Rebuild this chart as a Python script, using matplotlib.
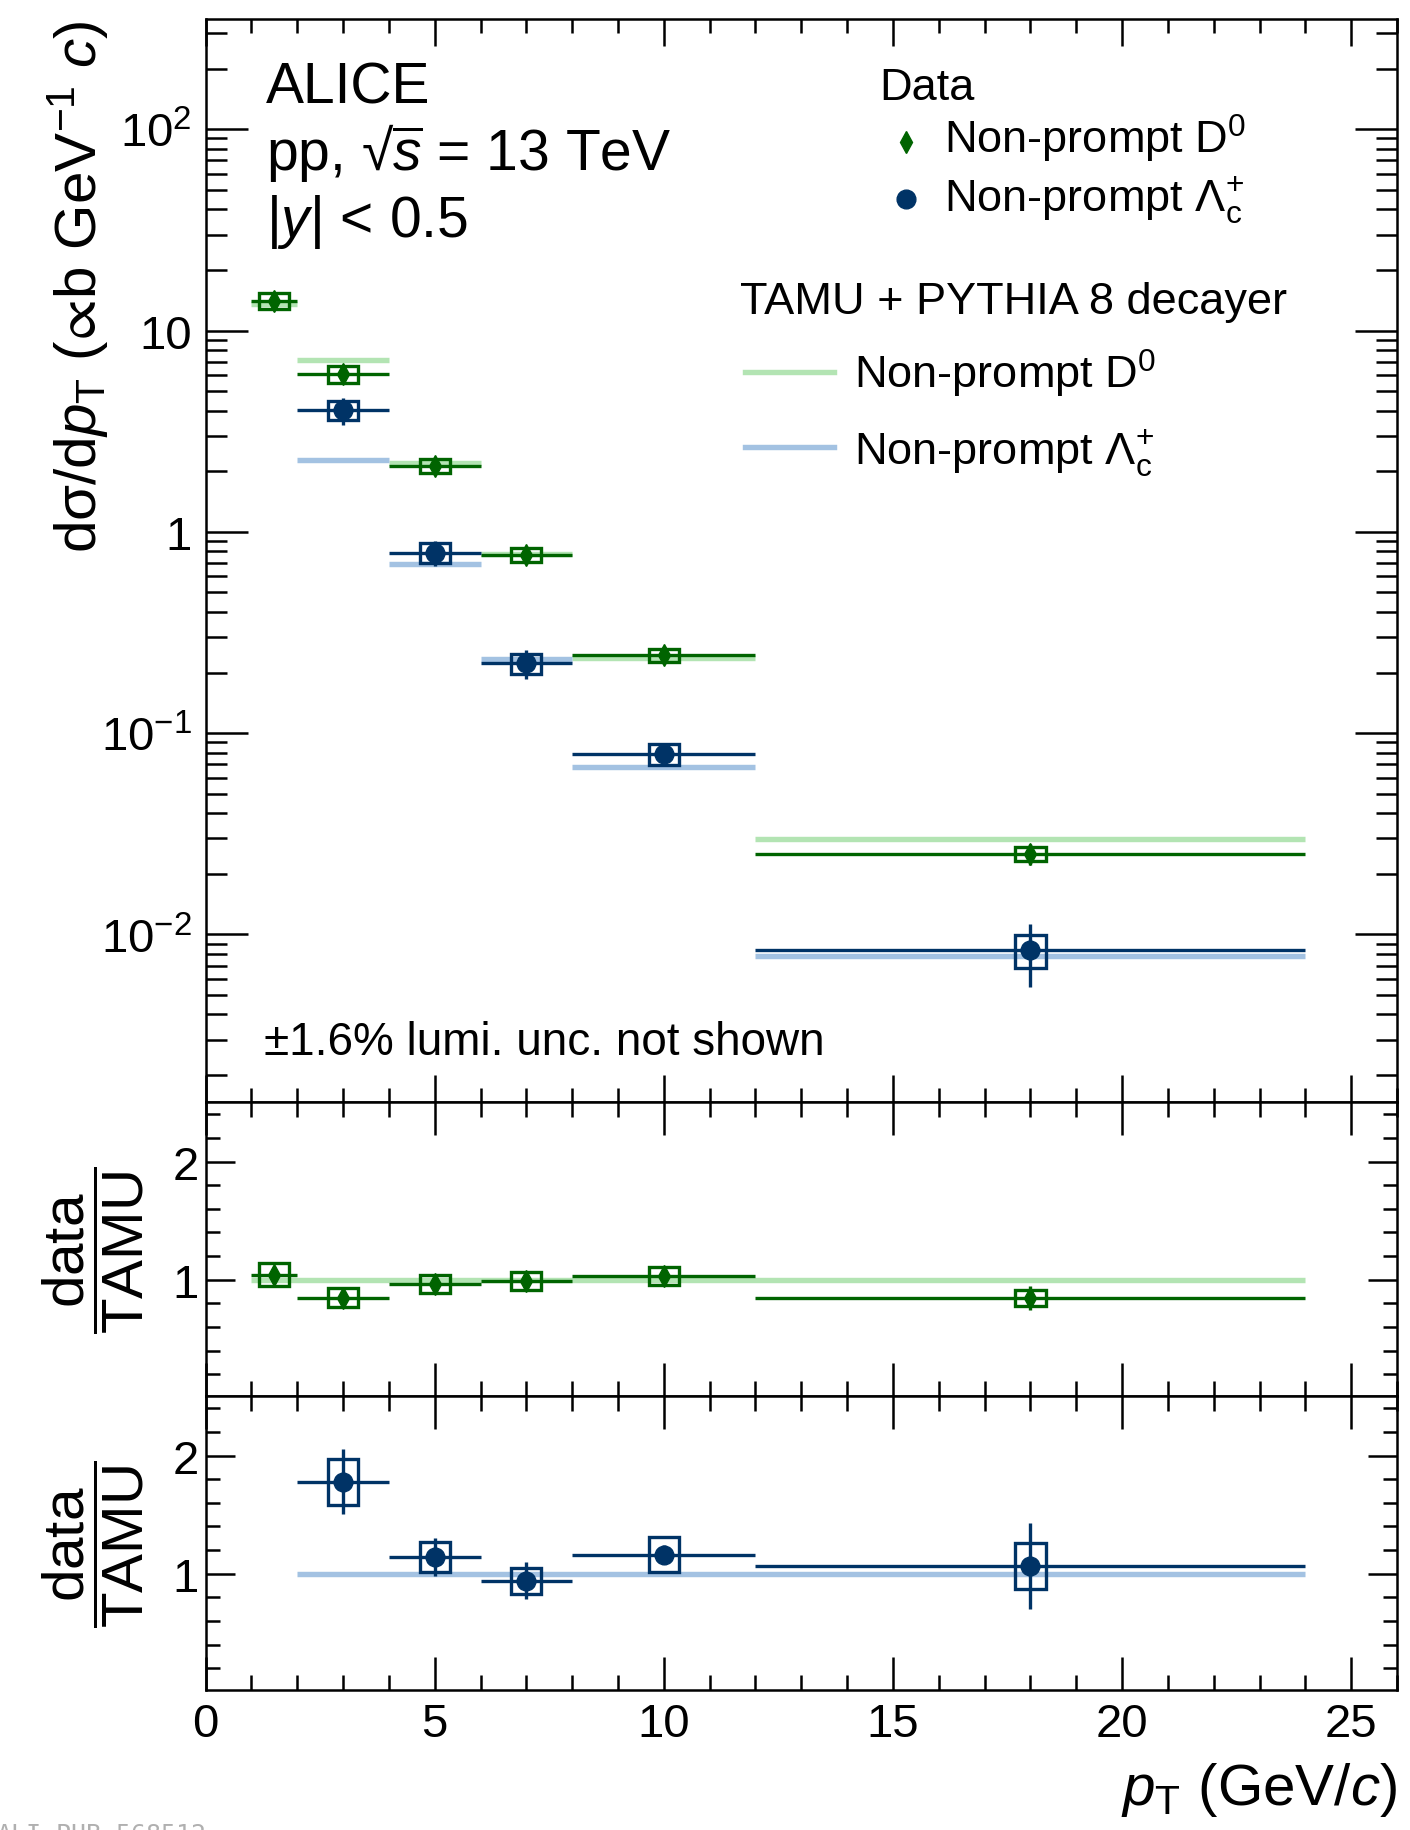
# Non-prompt D0 and Lambda_c+ cross sections vs pT in pp at 13 TeV (ALICE),
# compared with TAMU + PYTHIA 8 decayer. Top panel: spectra on a log scale,
# lower panels: data / TAMU for each species.

import matplotlib
matplotlib.use("Agg")
import matplotlib.pyplot as plt
from matplotlib.lines import Line2D
from matplotlib.patches import Rectangle
from matplotlib.ticker import FixedLocator, LogLocator, MultipleLocator, NullFormatter, FuncFormatter
import numpy as np

# --- Data --------------------------------------------------------------------
D0_PT_LO = [1, 2, 4, 6, 8, 12]
D0_PT_HI = [2, 4, 6, 8, 12, 24]
D0_PT = [1.5, 3, 5, 7, 10, 18]
D0_XSEC = [14.1, 6.10, 2.13, 0.769, 0.243, 0.0251]
D0_STAT = [0.04, 0.04, 0.05, 0.05, 0.05, 0.12]          # relative
D0_SYST = [0.092, 0.097, 0.079, 0.077, 0.076, 0.080]    # relative
D0_TAMU = [13.6, 7.11, 2.21, 0.779, 0.236, 0.0299]
D0_RATIO = [1.043, 0.848, 0.96, 0.99, 1.033, 0.844]

LC_PT_LO = [2, 4, 6, 8, 12]
LC_PT_HI = [4, 6, 8, 12, 24]
LC_PT = [3, 5, 7, 10, 18]
LC_XSEC = [4.02, 0.786, 0.222, 0.0789, 0.00838]
LC_STAT = [0.155, 0.14, 0.166, 0.07, 0.343]
LC_SYST = [0.109, 0.114, 0.117, 0.125, 0.184]
LC_TAMU = [2.27, 0.689, 0.234, 0.0678, 0.00785]
LC_RATIO = [1.777, 1.142, 0.94, 1.162, 1.066]

Y_MAJOR = [1e-2, 1e-1, 1, 10, 100]
RATIO_MAJOR = [1, 2]

# --- Style -------------------------------------------------------------------
W, H = 1410, 1831          # px, at dpi 100
D0_COLOR = "#006400"
LC_COLOR = "#003366"
D0_MODEL = "#b3e4b3"
LC_MODEL = "#a3c2e2"
DATA_LW = 2.4
MODEL_LW = 3.9
BOX_HALF = 0.33            # GeV/c — half width of the syst. box
TICK_SIZE = 34

plt.rcParams["font.family"] = ["Liberation Sans", "DejaVu Sans"]
plt.rcParams["mathtext.fontset"] = "custom"
plt.rcParams["mathtext.rm"] = "Liberation Sans"
plt.rcParams["mathtext.it"] = "Liberation Sans:italic"
plt.rcParams["mathtext.bf"] = "Liberation Sans:bold"
plt.rcParams["mathtext.sf"] = "Liberation Sans"
plt.rcParams["mathtext.fallback"] = "stixsans"


def fx(px):
    return px / W


def fy(py):
    return 1 - py / H


def draw_data(ax, lo, hi, x, y, stat, syst, color, marker, ms):
    """Bin-width line, stat. bar, syst. box and marker, ROOT style."""
    ax.hlines(y, lo, hi, color=color, lw=DATA_LW, zorder=4)
    ylo = [v * (1 - s) for v, s in zip(y, stat)]
    yhi = [v * (1 + s) for v, s in zip(y, stat)]
    ax.vlines(x, ylo, yhi, color=color, lw=DATA_LW, zorder=4)
    for xi, v, s in zip(x, y, syst):
        ax.add_patch(Rectangle((xi - BOX_HALF, v * (1 - s)), 2 * BOX_HALF, 2 * v * s,
                               fill=False, ec=color, lw=DATA_LW, zorder=5))
    ax.plot(x, y, ls="none", marker=marker, ms=ms, color=color, zorder=6)


def style_axes(ax, xmaj, xmin, ymaj, ymin):
    ax.set_xlim(0, 26)
    ax.xaxis.set_major_locator(MultipleLocator(5))
    ax.xaxis.set_minor_locator(MultipleLocator(1))
    ax.tick_params(which="both", direction="in", top=True, right=True, width=1.8,
                   labelsize=TICK_SIZE)
    ax.tick_params(axis="x", which="major", length=xmaj, pad=9)
    ax.tick_params(axis="x", which="minor", length=xmin)
    ax.tick_params(axis="y", which="major", length=ymaj)
    ax.tick_params(axis="y", which="minor", length=ymin)
    for spine in ax.spines.values():
        spine.set_linewidth(1.8)


def log_label(v, pos):
    exp = int(round(np.log10(v)))
    if exp == 0:
        return "1"
    if exp == 1:
        return "10"
    return rf"$10^{{{exp}}}$"


def main():
    fig = plt.figure(figsize=(W / 100, H / 100), dpi=100)
    left, width = fx(205.6), fx(1397) - fx(205.6)
    ax = fig.add_axes([left, fy(1103), width, (1103 - 20) / H])
    ax_d0 = fig.add_axes([left, fy(1397), width, (1397 - 1103) / H])
    ax_lc = fig.add_axes([left, fy(1691), width, (1691 - 1397) / H])

    # --- spectra ---
    ax.set_yscale("log")
    ax.set_ylim(1.47e-3, 353)
    ax.hlines(D0_TAMU, D0_PT_LO, D0_PT_HI, color=D0_MODEL, lw=MODEL_LW, zorder=2)
    ax.hlines(LC_TAMU, LC_PT_LO, LC_PT_HI, color=LC_MODEL, lw=MODEL_LW, zorder=2)
    draw_data(ax, D0_PT_LO, D0_PT_HI, D0_PT, D0_XSEC, D0_STAT, D0_SYST, D0_COLOR, "d", 11)
    draw_data(ax, LC_PT_LO, LC_PT_HI, LC_PT, LC_XSEC, LC_STAT, LC_SYST, LC_COLOR, "o", 13.5)
    style_axes(ax, 19.5, 10, 30, 15)
    ax.yaxis.set_major_locator(FixedLocator(Y_MAJOR))
    ax.yaxis.set_major_formatter(FuncFormatter(log_label))
    ax.yaxis.set_minor_locator(LogLocator(base=10, subs=np.arange(2, 10), numticks=20))
    ax.yaxis.set_minor_formatter(NullFormatter())
    ax.tick_params(axis="y", pad=10)
    ax.tick_params(axis="x", labelbottom=False)

    # --- ratios ---
    for rax, lo, hi, x, r, stat, syst, color, model, marker, ms in [
        (ax_d0, D0_PT_LO, D0_PT_HI, D0_PT, D0_RATIO, D0_STAT, D0_SYST, D0_COLOR, D0_MODEL, "d", 11),
        (ax_lc, LC_PT_LO, LC_PT_HI, LC_PT, LC_RATIO, LC_STAT, LC_SYST, LC_COLOR, LC_MODEL, "o", 13.5),
    ]:
        rax.set_ylim(0.015, 2.505)
        rax.hlines(1, lo[0], hi[-1], color=model, lw=MODEL_LW, zorder=2)
        draw_data(rax, lo, hi, x, r, stat, syst, color, marker, ms)
        style_axes(rax, 24, 11, 21, 10)
        rax.yaxis.set_major_locator(FixedLocator(RATIO_MAJOR))
        rax.yaxis.set_minor_locator(MultipleLocator(0.2))
        rax.tick_params(axis="y", pad=5)
    ax_d0.tick_params(axis="x", labelbottom=False)

    # --- titles ---
    fig.text(fx(78), fy(21),
             r"d$\mathrm{\sigma}$/d$p_{\mathrm{T}}$ ($\!\propto\!$b GeV$^{-1}$ $c$)",
             rotation=90, ha="center", va="top", fontsize=42)
    for yc in (1250, 1544):
        fig.text(fx(93), fy(yc), r"$\dfrac{\mathrm{data}}{\mathrm{TAMU}}$",
                 rotation=90, ha="center", va="center", fontsize=42)
    fig.text(fx(1397), fy(1805), r"$p_{\mathrm{T}}$ (GeV/$c$)", ha="right", va="baseline",
             fontsize=42)

    # --- labels inside the main panel ---
    fig.text(fx(266), fy(103), "ALICE", fontsize=41, va="baseline")
    fig.text(fx(266), fy(170), r"pp, √$\overline{s}$ = 13 TeV", fontsize=41, va="baseline")
    fig.text(fx(266), fy(237), r"|$y$| < 0.5", fontsize=41, va="baseline")
    fig.text(fx(264), fy(1055), "±1.6% lumi. unc. not shown", fontsize=33, va="baseline")

    # --- legend, placed by hand like the ROOT TLegend ---
    fig.text(fx(879), fy(100), "Data", fontsize=32.5, va="baseline")
    fig.add_artist(Line2D([fx(906)], [fy(143)], marker="d", ms=11, color=D0_COLOR,
                          ls="none", transform=fig.transFigure))
    fig.text(fx(944), fy(154), r"Non-prompt D$^{0}$", fontsize=32.5, va="baseline")
    fig.add_artist(Line2D([fx(906)], [fy(200)], marker="o", ms=13.5, color=LC_COLOR,
                          ls="none", transform=fig.transFigure))
    fig.text(fx(944), fy(211), r"Non-prompt $\Lambda_{\mathrm{c}}^{+}$", fontsize=32.5,
             va="baseline")
    fig.text(fx(740), fy(314), "TAMU + PYTHIA 8 decayer", fontsize=32.5, va="baseline")
    for py, color, label in [(373, D0_MODEL, r"Non-prompt D$^{0}$"),
                             (448, LC_MODEL, r"Non-prompt $\Lambda_{\mathrm{c}}^{+}$")]:
        fig.add_artist(Line2D([fx(745), fx(834)], [fy(py), fy(py)], color=color,
                              lw=MODEL_LW, transform=fig.transFigure))
        fig.text(fx(854), fy(py + 16), label, fontsize=32.5, va="baseline")

    # figure id, clipped at the page edge as in the original
    fig.text(fx(-3), fy(1842), "ALI-PUB-568512", family="DejaVu Sans Mono",
             fontsize=18, color="#b0b0b0", va="baseline")

    fig.savefig("out.png", dpi=100)


if __name__ == "__main__":
    main()
